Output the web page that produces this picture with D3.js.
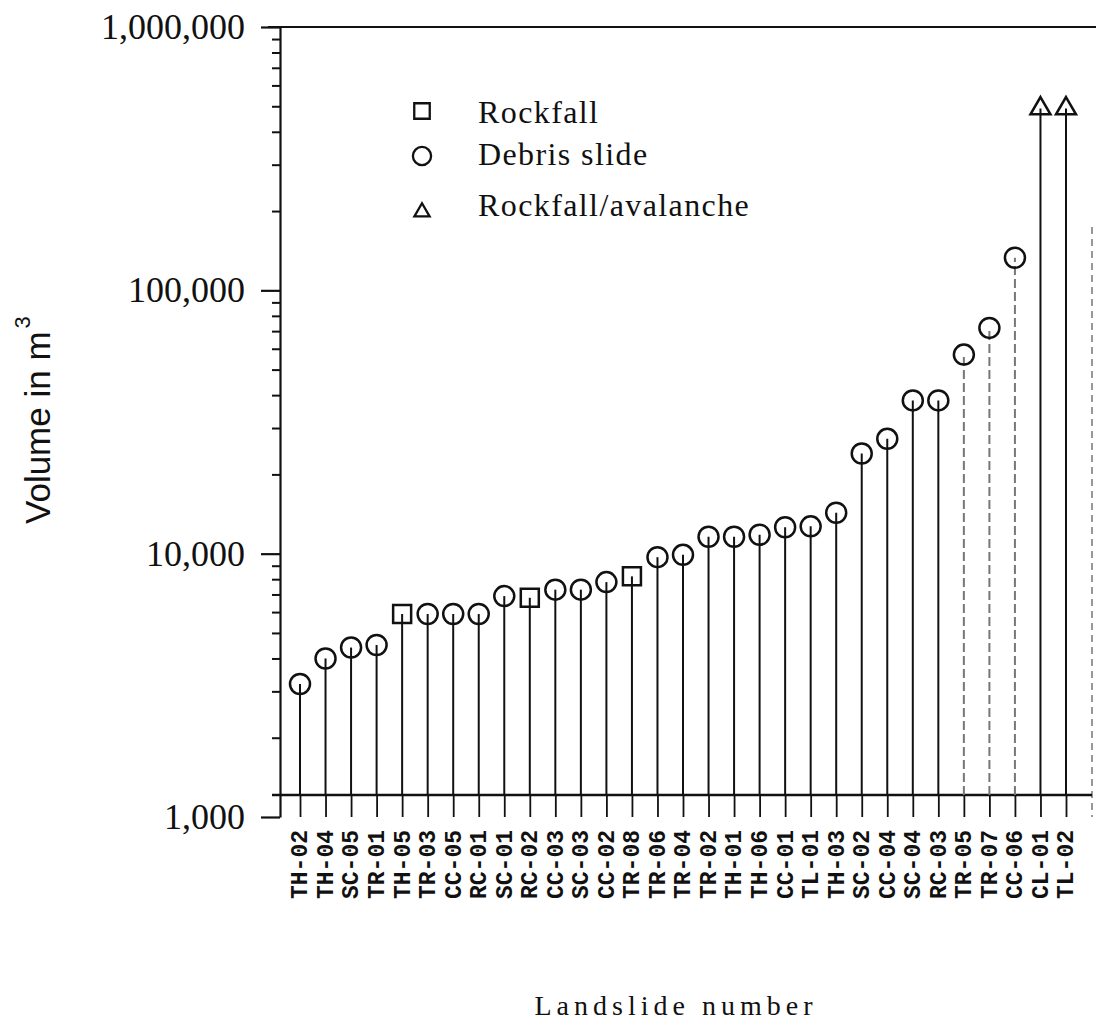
<!DOCTYPE html>
<html>
<head>
<meta charset="utf-8">
<script src="https://cdn.jsdelivr.net/npm/d3@7"></script>
<style>
	body { margin: 0; background: #fff; }
	.axis path, .axis line { stroke: #111; }
	.y-axis text { font-family: "Liberation Serif", serif; font-size: 36px; fill: #111; }
	.x-axis text { font-family: "Liberation Mono", monospace; font-size: 23px; font-weight: bold; fill: #111; }
	.legend text { font-family: "Liberation Serif", serif; font-size: 32px; letter-spacing: 1.4px; fill: #111; }
</style>
</head>
<body>
<div id="chart-area"></div>
<script>

// SVG Size
var width = 1096,
	height = 1034;

// plot box
var plotLeft = 280, plotRight = 1092, plotTop = 27, plotBottom = 817;
var baseline = 795;

// Data
var landslides = ["TH-02","TH-04","SC-05","TR-01","TH-05","TR-03","CC-05","RC-01","SC-01","RC-02",
	"CC-03","SC-03","CC-02","TR-08","TR-06","TR-04","TR-02","TH-01","TH-06","CC-01",
	"TL-01","TH-03","SC-02","CC-04","SC-04","RC-03","TR-05","TR-07","CC-06","CL-01","TL-02"];

var volumes = [3200, 4000, 4400, 4500, 5900, 5900, 5900, 5900, 6900, 6800,
	7300, 7300, 7800, 8200, 9700, 9900, 11600, 11600, 11800, 12600,
	12700, 14300, 24000, 27300, 38200, 38200, 57000, 72000, 133000, 490000, 490000];

var types = ["Debris slide","Debris slide","Debris slide","Debris slide","Rockfall","Debris slide","Debris slide","Debris slide","Debris slide","Rockfall",
	"Debris slide","Debris slide","Debris slide","Rockfall","Debris slide","Debris slide","Debris slide","Debris slide","Debris slide","Debris slide",
	"Debris slide","Debris slide","Debris slide","Debris slide","Debris slide","Debris slide","Debris slide","Debris slide","Debris slide","Rockfall/avalanche","Rockfall/avalanche"];

var legendTypes = ["Rockfall", "Debris slide", "Rockfall/avalanche"];
var yTickValues = [1000, 10000, 100000, 1000000];

// stems that came out faint in the print
var faintStems = ["TR-05", "TR-07", "CC-06"];

var data = landslides.map(function(name, i){
	return { name: name, volume: volumes[i], type: types[i] };
});

renderChart(data);

function renderChart(data){

	var svg = d3.select("#chart-area")
			.append("svg")
			.attr("width", width)
			.attr("height", height);

	var x = d3.scalePoint()
			.domain(landslides)
			.range([300, 1066]);

	var y = d3.scaleLog()
			.domain([1000, 1000000])
			.range([plotBottom, plotTop]);

	var symbolType = d3.scaleOrdinal()
			.domain(legendTypes)
			.range([d3.symbolSquare, d3.symbolCircle, d3.symbolTriangle]);
	var symbolSize = d3.scaleOrdinal()
			.domain(legendTypes)
			.range([324, 314, 173]);
	var legendSize = d3.scaleOrdinal()
			.domain(legendTypes)
			.range([240, 260, 100]);

	// frame: top and right
	svg.append("line")
			.attr("x1", plotLeft - 12).attr("x2", width)
			.attr("y1", y(1000000)).attr("y2", y(1000000))
			.attr("stroke", "#111").attr("stroke-width", 2.2);
	svg.append("line")
			.attr("x1", plotRight).attr("x2", plotRight)
			.attr("y1", y(1000000) + 200).attr("y2", plotBottom)
			.attr("stroke", "#777").attr("stroke-width", 1.5)
			.attr("stroke-dasharray", "7,5");

	// y axis, minor ticks first then major ticks with labels
	var minorTicks = y.ticks().filter(function(d){ return yTickValues.indexOf(d) < 0; });

	svg.append("g")
			.attr("class", "axis y-axis minor")
			.attr("transform", "translate(" + plotLeft + ",0)")
			.call(d3.axisLeft(y).tickValues(minorTicks).tickSize(8).tickFormat(""))
			.call(function(g){ g.select(".domain").remove(); })
			.selectAll("line").attr("stroke-width", 2);

	var yAxis = svg.append("g")
			.attr("class", "axis y-axis")
			.attr("transform", "translate(" + plotLeft + ",0)")
			.call(d3.axisLeft(y)
				.tickValues(yTickValues)
				.tickSizeInner(19)
				.tickSizeOuter(0)
				.tickPadding(16)
				.tickFormat(d3.format(",")));
	yAxis.select(".domain").attr("stroke-width", 2.2);
	yAxis.selectAll("line").attr("stroke-width", 2.2);

	// x axis sits a bit above the 1,000 line, ticks run down to it
	var xAxis = svg.append("g")
			.attr("class", "axis x-axis")
			.attr("transform", "translate(0," + baseline + ")")
			.call(d3.axisBottom(x)
				.tickSizeInner(plotBottom - baseline)
				.tickSizeOuter(0)
				.tickPadding(0));
	xAxis.select(".domain")
			.attr("d", "M" + (plotLeft - 8) + ",0H" + plotRight)
			.attr("stroke-width", 2.4);
	xAxis.selectAll("line").attr("stroke-width", 1.8);
	xAxis.selectAll("text")
			.attr("transform", "rotate(-90)")
			.attr("text-anchor", "end")
			.attr("x", -(plotBottom - baseline + 13))
			.attr("y", 0)
			.attr("dy", "0.3em");

	// stems
	svg.append("g").selectAll("line")
			.data(data)
			.enter()
			.append("line")
			.attr("x1", function(d){ return x(d.name); })
			.attr("x2", function(d){ return x(d.name); })
			.attr("y1", baseline)
			.attr("y2", function(d){ return y(d.volume); })
			.attr("stroke", function(d){ return faintStems.indexOf(d.name) >= 0 ? "#777" : "#111"; })
			.attr("stroke-dasharray", function(d){ return faintStems.indexOf(d.name) >= 0 ? "9,4" : null; })
			.attr("stroke-width", 2);

	// markers
	svg.append("g").selectAll("path")
			.data(data)
			.enter()
			.append("path")
			.attr("transform", function(d){
				return "translate(" + x(d.name) + "," + y(d.volume) + ")";
			})
			.attr("d", function(d){
				return d3.symbol().type(symbolType(d.type)).size(symbolSize(d.type))();
			})
			.attr("fill", "none")
			.attr("stroke", "#111")
			.attr("stroke-width", 2.5);

	// legend
	var legend = svg.append("g")
			.attr("class", "legend")
			.attr("transform", "translate(422,111)");
	var rows = legend.selectAll("g")
			.data(legendTypes)
			.enter()
			.append("g")
			.attr("transform", function(d, i){ return "translate(0," + [0, 45, 101][i] + ")"; });
	rows.append("path")
			.attr("d", function(d){
				return d3.symbol().type(symbolType(d)).size(legendSize(d))();
			})
			.attr("fill", "none")
			.attr("stroke", "#111")
			.attr("stroke-width", 2.3);
	rows.append("text")
			.attr("x", 56)
			.attr("y", function(d, i){ return [12, 9, 4][i]; })
			.text(function(d){ return d; });

	// axis titles
	var yTitle = svg.append("text")
			.attr("transform", "translate(50,524) rotate(-90)")
			.attr("font-family", "'Liberation Sans', Arial, sans-serif")
			.attr("font-size", 35)
			.attr("fill", "#111");
	yTitle.append("tspan").text("Volume in m");
	yTitle.append("tspan").attr("dy", -20).attr("dx", 3).attr("font-size", 22).text("3");

	svg.append("text")
			.attr("x", 676)
			.attr("y", 1015)
			.attr("text-anchor", "middle")
			.attr("font-family", "'Liberation Serif', serif")
			.attr("font-size", 28)
			.attr("letter-spacing", 5)
			.attr("fill", "#111")
			.text("Landslide number");
}

</script>
</body>
</html>
